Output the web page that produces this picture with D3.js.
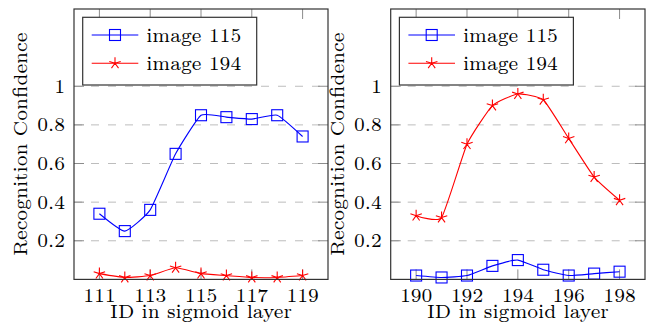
<!DOCTYPE html>
<html><head><meta charset="utf-8">
<script src="https://cdn.jsdelivr.net/npm/d3@7"></script>
<style>body{margin:0;background:#fff}svg{display:block}</style>
</head><body>
<svg id="c" width="647" height="326"></svg>
<script>
// ---- data ----
const idsLeft = [111,112,113,114,115,116,117,118,119];
const left115 = [0.34,0.25,0.36,0.65,0.85,0.84,0.83,0.85,0.74];
const left194 = [0.03,0.01,0.02,0.06,0.03,0.02,0.01,0.01,0.02];
const idsRight = [190,191,192,193,194,195,196,197,198];
const right115 = [0.02,0.01,0.02,0.07,0.10,0.05,0.02,0.03,0.04];
const right194 = [0.33,0.32,0.70,0.90,0.96,0.93,0.73,0.53,0.41];
const ticksLeft = [111,113,115,117,119];
const ticksRight = [190,192,194,196,198];
const yTicks = [0.2,0.4,0.6,0.8,1];
const seriesNames = ["image 115","image 194"];
const xTitle = "ID in sigmoid layer";
const yTitle = "Recognition Confidence";

// ---- font selection (wide optical-size Computer Modern look) ----
const FS = 19;
const cands = ["Latin Modern Roman 7","LM Roman 7","Latin Modern Roman 8","LM Roman 8","Latin Modern Roman","LM Roman 10"];
const ctx = document.createElement("canvas").getContext("2d");
function w(font, s){ ctx.font = font; return ctx.measureText(s).width; }
const probe = "image 115 Recognition 0.8";
let FAM = "serif";
for (const c of cands){
  if (Math.abs(w(`${FS}px "${c}", monospace`, probe) - w(`${FS}px monospace`, probe)) > 0.5){ FAM = c; break; }
}
const FONT = `"${FAM}", "Latin Modern Roman", serif`;
const SX = Math.max(1, Math.min(1.3, 95 / w(`${FS}px ${FONT}`, "image 115")));

const svg = d3.select("#c");
const BLUE = "#0000ff", RED = "#ff0000";

function txt(g, s, x, y, anchor, rot){
  return g.append("text")
    .attr("transform", `translate(${x},${y})${rot?` rotate(${rot})`:""} scale(${SX},1)`)
    .attr("text-anchor", anchor)
    .style("font-family", FONT).style("font-size", FS+"px").attr("fill","#000")
    .text(s);
}

function starPath(r){
  let p = "";
  for (let k=0;k<5;k++){
    const a = -Math.PI/2 + k*2*Math.PI/5;
    p += `M0,0L${(r*Math.cos(a)).toFixed(2)},${(r*Math.sin(a)).toFixed(2)}`;
  }
  return p;
}

function drawMarker(g, type, x, y){
  if (type === "square"){
    g.append("rect").attr("x", x-5.5).attr("y", y-5.5).attr("width", 11).attr("height", 11)
      .attr("fill","none").attr("stroke",BLUE).attr("stroke-width",1.1);
  } else {
    g.append("path").attr("d", starPath(6)).attr("transform",`translate(${x},${y})`)
      .attr("fill","none").attr("stroke",RED).attr("stroke-width",1.1);
  }
}

function panel(x0, x1, xDomain, ids, s115, s194, xt, ylabX){
  const top = 9, bottom = 279.4;
  const x = d3.scaleLinear().domain(xDomain).range([x0, x1]);
  const y = d3.scaleLinear().domain([0,1.4]).range([bottom, top]);
  const g = svg.append("g");

  g.selectAll(".grid").data(yTicks).join("line")
    .attr("x1", x0).attr("x2", x1).attr("y1", d=>y(d)).attr("y2", d=>y(d))
    .attr("stroke","#bdbdbd").attr("stroke-width",1).attr("stroke-dasharray","8,9");

  const TL = 10, tc = "#8c8c8c";
  yTicks.forEach(t=>{
    g.append("line").attr("x1",x0).attr("x2",x0+TL).attr("y1",y(t)).attr("y2",y(t)).attr("stroke",tc);
    g.append("line").attr("x1",x1-TL).attr("x2",x1).attr("y1",y(t)).attr("y2",y(t)).attr("stroke",tc);
  });
  xt.forEach(t=>{
    g.append("line").attr("x1",x(t)).attr("x2",x(t)).attr("y1",bottom).attr("y2",bottom-TL).attr("stroke",tc);
    g.append("line").attr("x1",x(t)).attr("x2",x(t)).attr("y1",top).attr("y2",top+TL).attr("stroke",tc);
  });

  // tick labels positioned by scales
  const fx = d3.format("d");
  xt.forEach(t=> txt(g, fx(t), x(t), 301.5, "middle"));
  yTicks.forEach(t=> txt(g, t===1?"1":d3.format(".1f")(t), x0-9, y(t)+6.6, "end"));

  const line = d3.line().x((d,i)=>x(ids[i])).y(d=>y(d)).curve(d3.curveCardinal.tension(0.55));
  g.append("path").attr("d", line(s194)).attr("fill","none").attr("stroke",RED).attr("stroke-width",1.1);
  g.append("path").attr("d", line(s115)).attr("fill","none").attr("stroke",BLUE).attr("stroke-width",1.1);
  s115.forEach((v,i)=>drawMarker(g,"square",x(ids[i]),y(v)));
  s194.forEach((v,i)=>drawMarker(g,"star",x(ids[i]),y(v)));

  g.append("rect").attr("x",x0).attr("y",top).attr("width",x1-x0).attr("height",bottom-top)
    .attr("fill","none").attr("stroke","#333").attr("stroke-width",1.2);

  const lx = x0+8.7, ly = 17.3, lw = 174, lh = 67.7;
  g.append("rect").attr("x",lx).attr("y",ly).attr("width",lw).attr("height",lh)
    .attr("fill","#fff").attr("stroke","#333").attr("stroke-width",1.2);
  seriesNames.forEach((n,i)=>{
    const cy = ly + 17.7 + i*28.3;
    const col = i===0?BLUE:RED;
    g.append("line").attr("x1",lx+9).attr("x2",lx+55.6).attr("y1",cy).attr("y2",cy).attr("stroke",col).attr("stroke-width",1.1);
    drawMarker(g, i===0?"square":"star", lx+32.3, cy);
    txt(g, n, lx+63.5, cy+7, "start");
  });

  txt(g, xTitle, (x0+x1)/2, 318.3, "middle");
  txt(g, yTitle, ylabX, (top+bottom)/2, "middle", -90);
}

panel(74, 328, [110,120], idsLeft, left115, left194, ticksLeft, 27);
panel(390.7, 645, [189,199], idsRight, right115, right194, ticksRight, 344);
</script>
</body></html>
